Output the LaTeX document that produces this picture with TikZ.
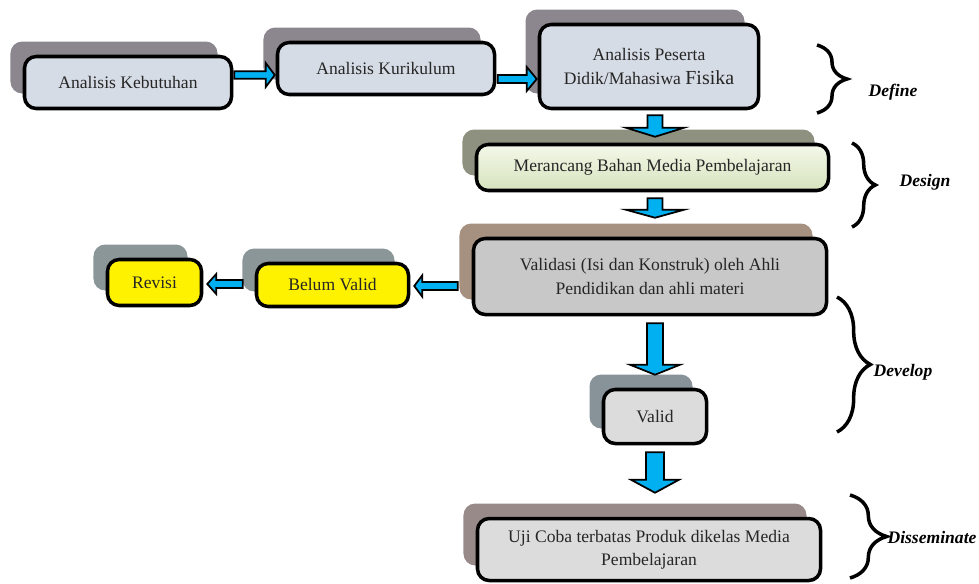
\documentclass[tikz,border=0pt]{standalone}
\usepackage{fontspec}
\setmainfont{Liberation Serif}
\usetikzlibrary{calc,shadows,decorations.pathreplacing}

\definecolor{boxblue}{RGB}{214,220,229}
\definecolor{shadepurple}{RGB}{140,135,142}
\definecolor{shadeolive}{RGB}{142,145,128}
\definecolor{shadebrown}{RGB}{166,144,128}
\definecolor{shadeslate}{RGB}{138,150,152}
\definecolor{shadevalid}{RGB}{136,147,153}
\definecolor{shadeuji}{RGB}{153,138,138}
\definecolor{greentop}{RGB}{244,248,234}
\definecolor{greenbot}{RGB}{214,227,188}
\definecolor{boxgray}{RGB}{200,200,200}
\definecolor{boxlight}{RGB}{220,220,220}
\definecolor{flowcyan}{RGB}{0,176,240}

\tikzset{
	stage/.style={draw=black, line width=3pt, rounded corners=10pt, align=center,
		inner sep=2pt, text=black!85, font=\fontsize{15}{20}\selectfont},
	backing/.style={general shadow={fill=#1, shadow xshift=-0.42cm, shadow yshift=0.45cm}},
	flow/.style={fill=flowcyan, draw=black, line width=1.5pt, line join=miter},
	phase/.style={decorate, decoration={brace, amplitude=#1}, line width=3pt},
	phaselabel/.style={font=\fontsize{15}{18}\selectfont\bfseries\itshape}
}

% block arrow: shaft half width, head half width, head length, from, to
\newcommand{\blockarrow}[5]{%
	\coordinate (ba-s) at (#4);
	\coordinate (ba-t) at (#5);
	\coordinate (ba-h) at ($(ba-t)!#3!(ba-s)$);
	\filldraw[flow] ($(ba-s)!#1!90:(ba-t)$) -- ($(ba-h)!#1!90:(ba-t)$) -- ($(ba-h)!#2!90:(ba-t)$)
		-- (ba-t) -- ($(ba-h)!#2!-90:(ba-t)$) -- ($(ba-h)!#1!-90:(ba-t)$) -- ($(ba-s)!#1!-90:(ba-t)$) -- cycle;
}

\begin{document}
\begin{tikzpicture}[x=0.03cm, y=-0.03cm]
	\useasboundingbox (0,0) rectangle (979,583);

	% define
	\node[stage, backing=shadepurple, fill=boxblue, minimum width=6.21cm, minimum height=1.56cm] (kebutuhan) at (128,82.5) {Analisis Kebutuhan};
	\node[stage, backing=shadepurple, fill=boxblue, minimum width=6.51cm, minimum height=1.56cm] (kurikulum) at (386,68.5) {Analisis Kurikulum};
	\node[stage, backing=shadepurple, fill=boxblue, minimum width=6.57cm, minimum height=2.52cm] (peserta) at (649,66.5)
		{Analisis Peserta\\Didik/Mahasiwa {\fontsize{17}{20}\selectfont Fisika}};

	% design
	\node[stage, backing=shadeolive, top color=greentop, bottom color=greenbot, minimum width=10.56cm, minimum height=1.38cm] (merancang) at (652.5,167.5) {Merancang Bahan Media Pembelajaran};

	% develop
	\node[stage, backing=shadebrown, fill=boxgray, minimum width=10.59cm, minimum height=2.28cm] (validasi) at (650,276.5)
		{Validasi (Isi dan Konstruk) oleh Ahli\\Pendidikan dan ahli materi};
	\node[stage, backing=shadeslate, fill=yellow, minimum width=4.56cm, minimum height=1.29cm] (belum) at (332.5,285) {Belum Valid};
	\node[stage, backing=shadeslate, fill=yellow, minimum width=2.82cm, minimum height=1.38cm] (revisi) at (154.5,282.5) {Revisi};
	\node[stage, backing=shadevalid, fill=boxlight, minimum width=3.09cm, minimum height=1.62cm] (valid) at (655,416.5) {Valid};

	% disseminate
	\node[stage, backing=shadeuji, fill=boxlight, minimum width=10.29cm, minimum height=1.86cm] (uji) at (649,549.5)
		{Uji Coba terbatas Produk dikelas Media\\Pembelajaran};

	% arrows
	\blockarrow{0.11cm}{0.36cm}{0.27cm}{$(kebutuhan.east)+(1,-7.5)$}{$(kurikulum.west)+(-1,6.5)$}
	\blockarrow{0.12cm}{0.36cm}{0.3cm}{$(kurikulum.east)+(1.5,10.5)$}{$(peserta.west)+(-1,12.5)$}
	\blockarrow{0.225cm}{0.87cm}{0.27cm}{$(valid.north |- peserta.south)+(0,5)$}{$(valid.north |- merancang.north)+(0,-6)$}
	\blockarrow{0.225cm}{0.87cm}{0.24cm}{$(valid.north |- merancang.south)+(0,6)$}{$(valid.north |- validasi.north)+(0,-19)$}
	\blockarrow{0.24cm}{0.75cm}{0.3cm}{$(valid.north |- validasi.south)+(0,7)$}{$(valid.north)+(0,-13)$}
	\blockarrow{0.27cm}{0.72cm}{0.39cm}{$(valid.south)+(0,7)$}{$(valid.north |- uji.north)+(0,-24)$}
	\blockarrow{0.12cm}{0.32cm}{0.24cm}{$(validasi.west)+(-14,9.5)$}{$(belum.east)+(4,1)$}
	\blockarrow{0.12cm}{0.3cm}{0.27cm}{$(belum.west)+(-12,-1)$}{$(revisi.east)+(4,1.5)$}

	% phases
	\draw[phase=0.9cm] (817,45) -- (817,113);
	\node[phaselabel] (lbldefine) at (893,92) {Define};
	\draw[phase=0.7cm] (852,143) -- (852,227);
	\node[phaselabel] (lbldesign) at (925,182) {Design};
	\draw[phase=1cm] (837,297) -- (837,432);
	\node[phaselabel] (lbldevelop) at (903,372) {Develop};
	\draw[phase=1.1cm] (850,495) -- (850,578);
	\node[phaselabel] (lbldisseminate) at (932,537) {Disseminate};

\end{tikzpicture}
\end{document}
